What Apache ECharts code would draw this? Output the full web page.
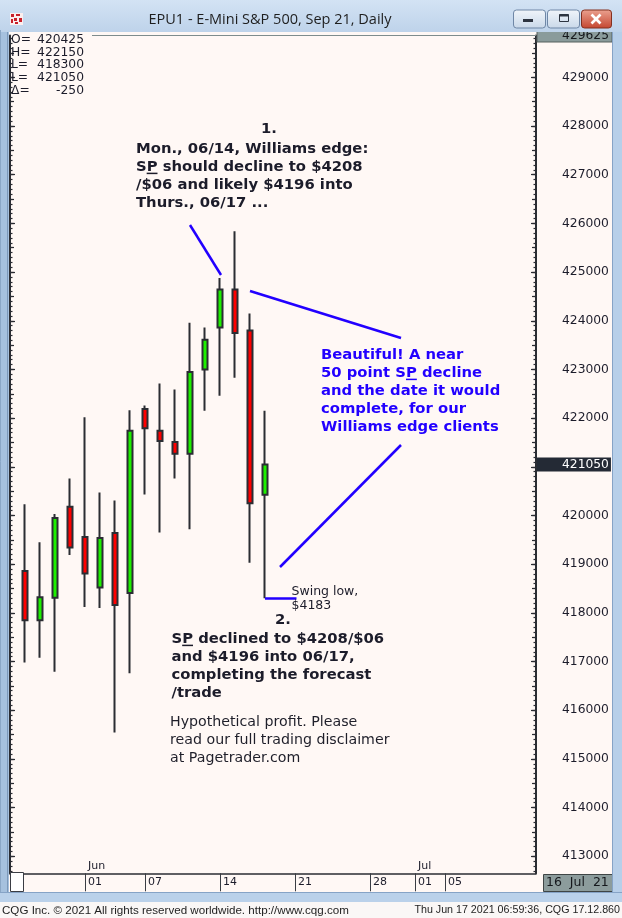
<!DOCTYPE html>
<html>
<head>
<meta charset="utf-8">
<script src="https://cdn.jsdelivr.net/npm/echarts@6/dist/echarts.min.js"></script>
<style>
  html, body { margin: 0; padding: 0; background: #fff8f5; }
  #chart { width: 622px; height: 918px; }
</style>
</head>
<body>
<div id="chart"></div>
<script>
// E-Mini S&P 500 (EPU1), daily sessions; x index 0 = 25 May 2021
const sessions = ['2021-05-25', '2021-05-26', '2021-05-27', '2021-05-28', '2021-06-01',
  '2021-06-02', '2021-06-03', '2021-06-04', '2021-06-07', '2021-06-08', '2021-06-09',
  '2021-06-10', '2021-06-11', '2021-06-14', '2021-06-15', '2021-06-16', '2021-06-17'];
const opens  = [418860, 417850, 418310, 420180, 419560, 418520, 419640, 418410, 422190,
  421740, 421510, 421270, 423000, 423860, 424640, 423800, 420425];
const highs  = [420230, 419450, 420030, 420760, 422020, 420470, 420310, 422160, 422260,
  422710, 422590, 423960, 423860, 424880, 425840, 424150, 422150];
const lows   = [416980, 417080, 416790, 419190, 418120, 418100, 415540, 416760, 420430,
  419650, 420760, 419720, 422150, 422460, 422830, 419030, 418300];
const closes = [417850, 418320, 419950, 419340, 418810, 419540, 418160, 421740, 421790,
  421530, 421270, 422950, 423610, 424640, 423750, 420250, 421050];
const netChange = -250;

// price scale labels
const priceLabels = [413000, 414000, 415000, 416000, 417000, 418000, 419000, 420000, 421000,
  422000, 423000, 424000, 425000, 426000, 427000, 428000, 429000];
const scaleTopText = '429625';
// date scale: session index of each dated tick
const dateTickIdx = [4, 8, 13, 18, 23, 26, 28];
const dateTickText = ['01', '07', '14', '21', '28', '01', '05'];
const monthIdx = [4, 26];
const monthText = ['Jun', 'Jul'];
const scrollDateText = '16  Jul  21';

const Y_MIN = 412650, Y_MAX = 429860;
const X_MIN = -1, X_MAX = 34.07;

const INK = '#1c1c2a';
const FRAME = '#2b2d33';
const BLUE = '#2200ff';
const BG = '#fff8f5';
const MONO = "'DejaVu Sans'";

const ticks100 = [], ticks500 = [];
for (let v = 412700; v <= Y_MAX; v += 100) ticks100.push(v);
for (let v = 413000; v <= Y_MAX; v += 500) ticks500.push(v);

function priceAxis(position, values, len, withLine, withLabel) {
  return {
    type: 'value', position, min: Y_MIN, max: Y_MAX, scale: true,
    axisLine: { show: withLine, onZero: false, lineStyle: { color: FRAME, width: 2 } },
    axisTick: { show: true, inside: true, length: len, customValues: values,
      lineStyle: { color: FRAME, width: 1.2 } },
    axisLabel: withLabel ? {
      show: true, customValues: values, margin: 26, color: INK,
      fontFamily: MONO, fontSize: 12.3, formatter: v => String(v)
    } : { show: false },
    splitLine: { show: false }
  };
}

const last = sessions.length - 1;
const candleData = sessions.map((d, i) => [i, opens[i], closes[i], lows[i], highs[i]]);

// ---------- annotation text helpers ----------
const measureCtx = document.createElement('canvas').getContext('2d');
function textWidth(s, font) { measureCtx.font = font; return measureCtx.measureText(s).width; }

const BOLD = "bold 14.8px 'DejaVu Sans'";
const REG = "14.2px 'DejaVu Sans'";
const SMALL = "12.5px 'DejaVu Sans'";

function txt(x, y, s, font, fill, align, z) {
  return {
    type: 'text', x: x, y: y, z: z || 60, silent: true,
    style: { text: s, font: font, fill: fill, textAlign: align || 'left', align: align || 'left',
      textVerticalAlign: 'middle', verticalAlign: 'middle' }
  };
}
function lines(x, y0, step, arr, font, fill) {
  return arr.map((s, k) => txt(x, y0 + k * step, s, font, fill));
}
// underline below one letter in a line of text
function underline(x, y, prefix, letter, font, color) {
  const a = x + textWidth(prefix, font);
  const b = x + textWidth(prefix + letter, font);
  return { type: 'line', z: 60, silent: true,
    shape: { x1: a, y1: y + 6.4, x2: b, y2: y + 6.4 },
    style: { stroke: color, lineWidth: 1.5 } };
}
function seg(x1, y1, x2, y2, color, w, z) {
  return { type: 'line', z: z || 55, silent: true, shape: { x1, y1, x2, y2 },
    style: { stroke: color, lineWidth: w, lineCap: 'butt' } };
}

const topNote = ['Mon., 06/14, Williams edge:', 'SP should decline to $4208',
  '/$06 and likely $4196 into', 'Thurs., 06/17 ...'];
const blueNote = ['Beautiful! A near', '50 point SP decline', 'and the date it would',
  'complete, for our', 'Williams edge clients'];
const resultNote = ['SP declined to $4208/$06', 'and $4196 into 06/17,',
  'completing the forecast', '/trade'];
const disclaimer = ['Hypothetical profit. Please', 'read our full trading disclaimer',
  'at Pagetrader.com'];

const quoteLabels = ['O=', 'H=', 'L=', 'L=', '\u0394='];
const quoteValues = [opens[last], highs[last], lows[last], closes[last], netChange];

const graphics = [];

// window chrome: title bar
graphics.push({ type: 'rect', z: 100, silent: true, shape: { x: 0, y: 0, width: 622, height: 32 },
  style: { fill: new echarts.graphic.LinearGradient(0, 0, 0, 1,
    [{ offset: 0, color: '#d3e3f4' }, { offset: 1, color: '#bed3ea' }]) } });
graphics.push(txt(270, 20, 'EPU1 - E-Mini S&P 500, Sep 21, Daily', "14.5px 'Open Sans'", '#1e1e1e', 'center', 101));
// app icon
graphics.push({ type: 'rect', z: 101, silent: true, shape: { x: 10, y: 13, width: 13, height: 12 },
  style: { fill: '#fbeeee' } });
[[11, 14, 3, 3], [16, 14, 4, 2], [11, 19, 2, 4], [14, 18, 3, 3], [19, 18, 3, 4], [15, 22, 3, 2]]
  .forEach(r => graphics.push({ type: 'rect', z: 102, silent: true,
    shape: { x: r[0], y: r[1], width: r[2], height: r[3] }, style: { fill: '#c8202a' } }));
// caption buttons
function capButton(x, w, top, bottom, stroke) {
  return { type: 'rect', z: 101, silent: true, shape: { x: x, y: 10, width: w, height: 18, r: 3 },
    style: { fill: new echarts.graphic.LinearGradient(0, 0, 0, 1,
      [{ offset: 0, color: top }, { offset: 1, color: bottom }]), stroke: stroke, lineWidth: 1 } };
}
graphics.push(capButton(513.5, 32, '#f1f5fa', '#c9d8e9', '#6f87a6'));
graphics.push(capButton(547.5, 32, '#f1f5fa', '#c9d8e9', '#6f87a6'));
graphics.push(capButton(581.5, 30, '#eba391', '#c4452f', '#84301f'));
graphics.push({ type: 'rect', z: 102, silent: true, shape: { x: 523, y: 19, width: 10, height: 3 },
  style: { fill: '#2d3440' } });
graphics.push({ type: 'rect', z: 102, silent: true, shape: { x: 559.5, y: 14.5, width: 9, height: 7 },
  style: { fill: 'none', stroke: '#2d3440', lineWidth: 1 } });
graphics.push({ type: 'rect', z: 102, silent: true, shape: { x: 559.5, y: 14.5, width: 9, height: 2 },
  style: { fill: '#2d3440' } });
graphics.push(seg(591.5, 14.5, 600.5, 23.5, '#ffffff', 2.6, 102));
graphics.push(seg(600.5, 14.5, 591.5, 23.5, '#ffffff', 2.6, 102));

// window borders
graphics.push({ type: 'rect', z: 99, silent: true, shape: { x: 0, y: 30, width: 9, height: 863 },
  style: { fill: '#a6c1de' } });
graphics.push(seg(0.5, 30, 0.5, 893, '#8ba7c6', 1, 100));
graphics.push(seg(7.5, 32, 7.5, 892, '#7c98b9', 1, 100));
graphics.push({ type: 'rect', z: 99, silent: true, shape: { x: 612, y: 30, width: 10, height: 863 },
  style: { fill: '#b7cfe9' } });
graphics.push(seg(612.5, 32, 612.5, 892, '#86a3c6', 1, 100));
graphics.push({ type: 'rect', z: 99, silent: true, shape: { x: 0, y: 892, width: 622, height: 10 },
  style: { fill: '#bad1ea' } });
graphics.push(seg(0, 892.5, 622, 892.5, '#86a3c6', 1, 100));
graphics.push({ type: 'rect', z: 99, silent: true, shape: { x: 0, y: 902, width: 622, height: 16 },
  style: { fill: '#faf7f6' } });

// footer
graphics.push(txt(2, 910.5, 'CQG Inc. \u00a9 2021 All rights reserved worldwide. http://www.cqg.com',
  "11.6px 'Liberation Sans'", '#1e1e1e', 'left', 101));
graphics.push(txt(620, 910.5, 'Thu Jun 17 2021 06:59:36, CQG 17.12.860',
  "10.7px 'Liberation Sans'", '#1e1e1e', 'right', 101));

// plot frame top edge (left part is covered by the quote box)
graphics.push(seg(92, 35.5, 536, 35.5, '#7e8c8c', 1, 40));

// quote box
quoteLabels.forEach((s, k) => {
  const y = 40 + k * 12.6;
  graphics.push(txt(11, y, s, "12.3px 'DejaVu Sans'", INK, 'left', 61));
  graphics.push(txt(84, y, String(quoteValues[k]), "12.3px 'DejaVu Sans'", INK, 'right', 61));
});

// scale top marker
graphics.push({ type: 'rect', z: 50, silent: true, shape: { x: 537, y: 31, width: 75, height: 11 },
  style: { fill: '#8a9b9b', stroke: '#56605f', lineWidth: 1 } });
graphics.push(txt(609, 35.5, scaleTopText, "12.3px 'DejaVu Sans'", '#15181c', 'right', 51));

// scroll box and visible-range date marker
graphics.push({ type: 'rect', z: 50, silent: true, shape: { x: 10.5, y: 872.5, width: 13, height: 19 },
  style: { fill: '#ffffff', stroke: '#3a3d44', lineWidth: 1 } });
graphics.push({ type: 'rect', z: 50, silent: true, shape: { x: 543.5, y: 874.5, width: 70, height: 17 },
  style: { fill: '#8c9c9c', stroke: '#3f4545', lineWidth: 1 } });
graphics.push(txt(546, 883, scrollDateText, "12.5px 'DejaVu Sans'", '#15181c', 'left', 51));

// annotation 1
graphics.push(txt(261, 129, '1.', BOLD, INK));
graphics.push(...lines(136, 149, 18, topNote, BOLD, INK));
graphics.push(underline(136, 167, 'S', 'P', BOLD, INK));
graphics.push(seg(190, 225, 221, 275, BLUE, 2.5));

// blue comment
graphics.push(...lines(321, 355, 18, blueNote, BOLD, BLUE));
graphics.push(underline(321, 373, '50 point S', 'P', BOLD, BLUE));
graphics.push(seg(250, 291, 401, 338, BLUE, 2.5));
graphics.push(seg(280, 567, 401, 445, BLUE, 2.5));

// swing low label
graphics.push(txt(291.5, 592, 'Swing low,', SMALL, INK));
graphics.push(txt(291.5, 606, '$' + String(lows[last] / 100), SMALL, INK));

// annotation 2
graphics.push(txt(275, 620.5, '2.', BOLD, INK));
graphics.push(...lines(171.5, 639, 18, resultNote, BOLD, INK));
graphics.push(underline(171.5, 639, 'S', 'P', BOLD, INK));
graphics.push(...lines(170, 722.5, 18, disclaimer, REG, '#1f1f2a'));

const chart = echarts.init(document.getElementById('chart'), null, { renderer: 'canvas' });
chart.setOption({
  animation: false,
  backgroundColor: BG,
  grid: { left: 10, right: 86, top: 35.5, bottom: 44.7, show: false },
  xAxis: [
    {
      type: 'value', min: X_MIN, max: X_MAX, position: 'bottom',
      axisLine: { show: true, onZero: false, lineStyle: { color: FRAME, width: 1.5 } },
      axisTick: { show: true, length: 18, customValues: dateTickIdx,
        lineStyle: { color: '#3a3d44', width: 1 } },
      axisLabel: { show: true, customValues: dateTickIdx, margin: 3, align: 'left',
        verticalAlign: 'top', padding: [0, 0, 0, 3], color: INK, fontFamily: MONO, fontSize: 11,
        formatter: v => dateTickText[dateTickIdx.indexOf(Math.round(v))] },
      splitLine: { show: false }
    },
    {
      type: 'value', min: X_MIN, max: X_MAX, position: 'bottom',
      axisLine: { show: false }, axisTick: { show: false },
      axisLabel: { show: true, inside: true, customValues: monthIdx, margin: 2, align: 'left',
        verticalAlign: 'bottom', padding: [0, 0, 0, 3], color: INK, fontFamily: MONO, fontSize: 11,
        formatter: v => monthText[monthIdx.indexOf(Math.round(v))] },
      splitLine: { show: false }
    }
  ],
  yAxis: [
    priceAxis('right', priceLabels, 5, true, true),
    priceAxis('right', ticks500, 4, false, false),
    priceAxis('right', ticks100, 2.5, false, false),
    priceAxis('left', priceLabels, 5, true, false),
    priceAxis('left', ticks500, 4, false, false),
    priceAxis('left', ticks100, 2.5, false, false)
  ],
  series: [{
    type: 'candlestick',
    xAxisIndex: 0, yAxisIndex: 0,
    clip: false,
    barWidth: 5,
    encode: { x: 0, y: [1, 2, 3, 4] },
    data: candleData,
    itemStyle: { color: '#1ef000', color0: '#ff0000', borderColor: FRAME, borderColor0: FRAME,
      borderWidth: 2 },
    markLine: {
      silent: true, symbol: ['none', 'none'], animation: false,
      data: [
        { yAxis: closes[last], lineStyle: { color: 'rgba(0,0,0,0)', width: 1 },
          label: { show: true, position: 'end', distance: 1, formatter: () => String(closes[last]),
            backgroundColor: '#242a35', color: '#ffffff', padding: [1, 2, 1, 25],
            fontFamily: MONO, fontSize: 12.3 } },
        [
          { coord: [last, lows[last]], lineStyle: { color: BLUE, width: 2.5, type: 'solid' },
            label: { show: false } },
          { coord: [last + 2.1, lows[last]] }
        ]
      ]
    }
  }],
  graphic: { elements: graphics }
});
</script>
</body>
</html>
